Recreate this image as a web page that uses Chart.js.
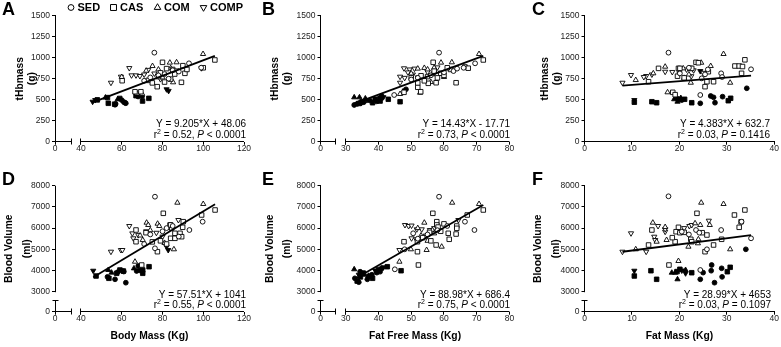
<!DOCTYPE html>
<html><head><meta charset="utf-8">
<script src="https://cdn.jsdelivr.net/npm/chart.js@4/dist/chart.umd.min.js"></script>
<style>
html,body{margin:0;padding:0;background:#fff;}
#wrap{position:relative;width:781px;height:347px;overflow:hidden;background:#fff;}
canvas{position:absolute;}
</style></head><body>
<div id="wrap">
<canvas id="cA" width="260" height="170" style="left:0;top:0"></canvas>
<canvas id="cB" width="260" height="170" style="left:260px;top:0"></canvas>
<canvas id="cC" width="261" height="170" style="left:520px;top:0"></canvas>
<canvas id="cD" width="260" height="177" style="left:0;top:170px"></canvas>
<canvas id="cE" width="260" height="177" style="left:260px;top:170px"></canvas>
<canvas id="cF" width="261" height="177" style="left:520px;top:170px"></canvas>
</div>
<script>
// ---------- DATA ----------
// group codes: S=SED, C=CAS, M=COM, P=COMP (open); lower case = filled symbols
const panelA = [ // body mass (kg), tHbmass (g)
[76,1060,'S'],[93,933,'S'],[99,881,'S'],[85,850,'S'],[81,805,'S'],[74,765,'S'],[71,725,'S'],[88,835,'S'],[78,790,'S'],[83,750,'S'],
[80,945,'C'],[90,905,'C'],[105.7,973,'C'],[91,814,'C'],[89.3,707,'C'],[77.4,655,'C'],[66.5,595,'C'],[69.4,595,'C'],[60.2,726,'C'],[82,870,'C'],[85,860,'C'],[87,840,'C'],[78,775,'C'],[84,745,'C'],[73,730,'C'],[100,880,'C'],[86,805,'C'],[81,710,'C'],[75,700,'C'],[92,860,'C'],[79,820,'C'],
[99.9,1044,'M'],[83.6,941,'M'],[86.9,945,'M'],[75.1,901,'M'],[85.2,707,'M'],[72,845,'M'],[78,860,'M'],[67.5,575,'M'],[70,570,'M'],[80,765,'M'],[84,875,'M'],[60,770,'M'],
[63.7,877,'P'],[59.6,774,'P'],[64.8,790,'P'],[67,790,'P'],[68.9,782,'P'],[54.7,702,'P'],[73,855,'P'],[76,812,'P'],[86,838,'P'],[99.1,875,'P'],[71,800,'P'],[79,745,'P'],
[45.7,476,'p'],[47,496,'p'],[82,624,'p'],[83,605,'p'],
[53.4,457,'c'],[56.5,447,'c'],[70.2,484,'c'],[73.3,516,'c'],[67,548,'c'],[48,498,'c'],[59,515,'c'],[53,525,'c'],
[56.7,440,'s'],[61,472,'s'],[62,458,'s'],[68,538,'s'],[60,495,'s'],[70,540,'s'],[57,450,'s'],[61.5,465,'s'],
[52,525,'m'],[69,560,'m'],[58,505,'m']
];
const panelB = [ // fat free mass (kg), tHbmass (g)
[58.5,1060,'S'],[69.5,933,'S'],[66,880,'S'],[62.9,841,'S'],[44.8,556,'S'],[56,790,'S'],[52,760,'S'],[60,825,'S'],[50,740,'S'],[64,870,'S'],
[56.7,945,'C'],[72,973,'C'],[66.4,890,'C'],[67.4,875,'C'],[63.7,702,'C'],[57.6,702,'C'],[55.2,695,'C'],[52,648,'C'],[52.9,595,'C'],[47.8,588,'C'],[55,775,'C'],[58,760,'C'],[62,860,'C'],[59,815,'C'],[53,785,'C'],[50,760,'C'],[57,840,'C'],[60,790,'C'],[54,725,'C'],[61,880,'C'],[52,700,'C'],
[70.7,1044,'M'],[59.1,941,'M'],[62.4,945,'M'],[60,770,'M'],[56,710,'M'],[52,870,'M'],[54,878,'M'],[57,880,'M'],[52.7,583,'M'],[46.6,568,'M'],[50,812,'M'],[55,860,'M'],
[47.8,874,'P'],[46.6,774,'P'],[46.6,702,'P'],[51,870,'P'],[49.5,860,'P'],[49,825,'P'],[50.5,800,'P'],[55,830,'P'],[57,815,'P'],[58,885,'P'],[48,760,'P'],[52,765,'P'],
[32.6,528,'m'],[34.2,528,'m'],[36,515,'m'],
[32.6,437,'s'],[34.4,465,'s'],[35.5,470,'s'],[37.4,490,'s'],[41,544,'s'],[48.4,624,'s'],[39.5,480,'s'],[33.5,450,'s'],
[38.2,464,'c'],[39,505,'c'],[40.5,516,'c'],[43,505,'c'],[46.6,476,'c'],[35,475,'c'],[40.5,484,'c'],[34,455,'c'],
[34.8,460,'p'],[36.5,496,'p'],[41.5,530,'p'],[48,610,'p']
];
const panelC = [ // fat mass (kg), tHbmass (g)
[17.7,1060,'S'],[35.1,862,'S'],[28.8,814,'S'],[25.4,802,'S'],[24.4,556,'S'],[20.1,813,'S'],[24.7,754,'S'],[22,880,'S'],[26,860,'S'],[29,770,'S'],
[33.8,975,'C'],[31.7,901,'C'],[32.6,901,'C'],[33.3,895,'C'],[33.1,814,'C'],[13.5,714,'C'],[15.6,873,'C'],[19.8,873,'C'],[20.1,873,'C'],[19.6,780,'C'],[22.3,873,'C'],[22.6,873,'C'],[23.5,945,'C'],[24,940,'C'],[26.1,833,'C'],[25.8,714,'C'],[27.2,714,'C'],[25.4,655,'C'],[18.6,588,'C'],[19.1,560,'C'],[21,760,'C'],
[29.3,1044,'M'],[30.7,702,'M'],[10.8,734,'M'],[14.5,814,'M'],[17,893,'M'],[24.6,940,'M'],[26.6,901,'M'],[22.4,702,'M'],[17.5,588,'M'],[20.8,873,'M'],[22,800,'M'],[21,760,'M'],
[8,702,'P'],[9.8,794,'P'],[13,782,'P'],[14.2,800,'P'],[17,833,'P'],[12.5,770,'P'],[21.5,860,'P'],[23,850,'P'],[25,820,'P'],[20,815,'P'],[18.5,830,'P'],[22.5,780,'P'],
[10.5,496,'p'],[24.4,841,'p'],
[10.5,470,'c'],[14.2,476,'c'],[15.2,464,'c'],[20.1,505,'c'],[21.1,505,'c'],[22.6,464,'c'],[30.3,488,'c'],[30.8,517,'c'],
[24.4,457,'s'],[26.6,544,'s'],[27.2,528,'s'],[27.5,464,'s'],[29.1,536,'s'],[34.2,636,'s'],[19.6,510,'s'],[20.5,495,'s'],
[19.6,476,'m'],[18.9,505,'m'],[20.3,520,'m']
];
const panelD = [ // body mass (kg), blood volume (ml)
[76.3,7481,'S'],[99.7,6302,'S'],[93.2,5910,'S'],[76.3,5047,'S'],[82,6000,'S'],[74,5700,'S'],[80,5850,'S'],[88,5600,'S'],[71,5250,'S'],[85,6100,'S'],
[105.8,6854,'C'],[80.4,6698,'C'],[99.2,6618,'C'],[84.5,6005,'C'],[83.7,6146,'C'],[90.2,6302,'C'],[89.9,6038,'C'],[67,5910,'C'],[67,5358,'C'],[71.9,5783,'C'],[86.1,5755,'C'],[88.6,5755,'C'],[84,5519,'C'],[86.1,5519,'C'],[89.4,5594,'C'],[77.5,4887,'C'],[69.8,4259,'C'],[79,5400,'C'],[82,5250,'C'],[75,5350,'C'],[84,6150,'C'],
[87.3,7198,'M'],[100,7137,'M'],[72.2,6255,'M'],[73,6146,'M'],[77.6,6207,'M'],[78.4,6099,'M'],[85.6,5000,'M'],[70.3,5439,'M'],[66.5,4415,'M'],[81,5300,'M'],[74,5900,'M'],[69,5650,'M'],
[87.8,6382,'P'],[63.7,6099,'P'],[65.2,5752,'P'],[68.1,5670,'P'],[65.7,5519,'P'],[54.7,4887,'P'],[59.6,4967,'P'],[60.3,4967,'P'],[72,5850,'P'],[77,5780,'P'],[80,5600,'P'],[84,6000,'P'],
[46,3990,'p'],[82,5123,'p'],[82.8,4967,'p'],[60,4000,'p'],
[47.4,3740,'c'],[53.7,3632,'c'],[57.5,3868,'c'],[59.1,4024,'c'],[60.8,3976,'c'],[70.3,4024,'c'],[70.3,3868,'c'],[73.4,4179,'c'],
[56.7,3585,'s'],[62,3425,'s'],[68.1,4212,'s'],[67.3,3976,'s'],[58,3920,'s'],[61,3950,'s'],[53,3700,'s'],[69,4000,'s'],
[53.4,4024,'m'],[66,4100,'m'],[55,3900,'m']
];
const panelE = [ // fat free mass (kg), blood volume (ml)
[58.5,7481,'S'],[66.4,6302,'S'],[69.3,5910,'S'],[50.6,5755,'S'],[45,4057,'S'],[55,5700,'S'],[58,5900,'S'],[52,5500,'S'],[61,6100,'S'],[48,5000,'S'],
[72,6854,'C'],[67.1,6618,'C'],[56.6,6698,'C'],[57.8,6302,'C'],[57.8,6150,'C'],[58.2,6050,'C'],[63.9,6099,'C'],[63.9,5990,'C'],[61.3,5755,'C'],[63.7,5720,'C'],[61.6,5472,'C'],[55.6,5800,'C'],[47.8,5358,'C'],[51.9,5358,'C'],[57.6,5203,'C'],[51.9,4887,'C'],[52.2,4259,'C'],[53.5,5550,'C'],[56,5400,'C'],[59,5850,'C'],[60,6200,'C'],
[62.5,7198,'M'],[70.7,7137,'M'],[54,6255,'M'],[59.3,5123,'M'],[54.7,4967,'M'],[49.9,5000,'M'],[46.4,4415,'M'],[56.5,5900,'M'],[53,5650,'M'],[52,6000,'M'],[57,5750,'M'],[55,5400,'M'],
[64.4,6382,'P'],[48.1,6146,'P'],[49.2,6099,'P'],[50.1,6120,'P'],[51.7,5943,'P'],[53.2,5943,'P'],[55.7,5910,'P'],[50.1,5519,'P'],[51.5,5472,'P'],[46.4,4967,'P'],[57,6000,'P'],[54.5,5650,'P'],
[32.6,4057,'m'],[35.5,3800,'m'],[37,3750,'m'],
[32.8,3632,'s'],[34.4,3943,'s'],[36.6,3585,'s'],[40.5,3943,'s'],[41,4104,'s'],[34,3450,'s'],[38,3800,'s'],[39.5,3900,'s'],
[35.4,3868,'c'],[38.2,3632,'c'],[42.7,4179,'c'],[46.9,3990,'c'],[34.5,3700,'c'],[40,4050,'c'],[37,3720,'c'],[33.5,3500,'c'],
[35.2,3911,'p'],[39,4000,'p'],[41.5,4150,'p'],[34,3800,'p']
];
const panelF = [ // fat mass (kg), blood volume (ml)
[17.7,7500,'S'],[33.1,6302,'S'],[23.5,5910,'S'],[24.2,5783,'S'],[28.8,5910,'S'],[35.1,5519,'S'],[25.8,5000,'S'],[24.4,4024,'S'],[20.5,5830,'S'],[22,5700,'S'],
[33.8,6854,'C'],[31.6,6618,'C'],[23.7,6698,'C'],[32.6,6038,'C'],[14.2,5910,'C'],[19.8,6038,'C'],[19.3,5830,'C'],[20.1,5783,'C'],[24.8,5783,'C'],[25.8,5674,'C'],[28.9,5472,'C'],[22.4,5472,'C'],[22.6,5358,'C'],[19.1,5358,'C'],[13.5,5203,'C'],[27.2,5203,'C'],[25.4,4887,'C'],[17.8,4259,'C'],[21,5800,'C'],[18.5,5550,'C'],[33,6300,'C'],
[24.6,7198,'M'],[29.3,7137,'M'],[14.4,6255,'M'],[17,6050,'M'],[17.3,5439,'M'],[23.3,6226,'M'],[24.4,6146,'M'],[26.4,6146,'M'],[24,5472,'M'],[23.9,5283,'M'],[21.9,5123,'M'],[15.2,5358,'M'],[30.7,5000,'M'],[10.8,5000,'M'],[19.8,4448,'M'],
[9.8,5755,'P'],[15.5,6099,'P'],[14.7,5594,'P'],[14.9,5439,'P'],[17,5830,'P'],[22.1,6099,'P'],[22.6,6146,'P'],[26.2,6350,'P'],[8,4887,'P'],[13,4887,'P'],[17,5950,'P'],[21,6000,'P'],
[10.5,3990,'p'],[21.3,3868,'p'],[20.5,4000,'p'],
[10.5,3740,'c'],[14,3990,'c'],[15.2,3585,'c'],[20.1,4057,'c'],[22.6,3896,'c'],[30.1,3943,'c'],[30.7,4151,'c'],[19.5,3950,'c'],
[24.4,3585,'s'],[26.8,4259,'s'],[26.7,3990,'s'],[27.4,3425,'s'],[28.9,4104,'s'],[34,5000,'s'],[25,3900,'s'],[29,3700,'s'],
[18.4,3896,'m'],[19.1,3896,'m'],[21.3,4024,'m'],[19.6,3585,'m']
];
const slopes = [9.205, 14.43, 4.383, 57.51, 88.98, 28.99];
const intercepts = [48.06, -17.71, 632.7, 1041, 686.4, 4653];
const equations = ['Y = 9.205*X + 48.06','Y = 14.43*X - 17.71','Y = 4.383*X + 632.7','Y = 57.51*X + 1041','Y = 88.98*X + 686.4','Y = 28.99*X + 4653'];
const r2Values = ['0.52','0.73','0.03','0.55','0.75','0.03'];
const pValues = ['< 0.0001','< 0.0001','= 0.1416','< 0.0001','< 0.0001','= 0.1097'];
const panelLetters = ['A','B','C','D','E','F'];
const groupNames = ['SED','CAS','COM','COMP'];
const tHbTicks = [0,250,500,750,1000,1250,1500];
const bvTicks = [3000,4000,5000,6000,7000,8000];
const bmTicks = [40,60,80,100,120];
const ffmTicks = [30,40,50,60,70,80];
const fmTicks = [0,10,20,30,40];
const yTitles = [['tHbmass','(g)'],['Blood Volume','(ml)']];
const xTitles = ['Body Mass (Kg)','Fat Free Mass (Kg)','Fat Mass (Kg)'];

// ---------- RENDERING ----------
const FONT = '"Liberation Sans", Arial, Helvetica, sans-serif';
Chart.defaults.font.family = FONT;

function styleFor(g) {
  const G = g.toUpperCase();
  const filled = g !== G;
  return {
    pointStyle: G === 'S' ? 'circle' : (G === 'C' ? 'rect' : 'triangle'),
    pointRotation: G === 'P' ? 180 : 0,
    pointRadius: G === 'S' ? 2.4 : (G === 'C' ? 3.2 : 3.0),
    pointBackgroundColor: filled ? '#000' : '#fff',
    pointBorderColor: '#000',
    pointBorderWidth: 0.9
  };
}

function drawSymbol(ctx, style, x, y, r, rot) {
  if (Chart.helpers && Chart.helpers.drawPoint) {
    ctx.fillStyle = '#fff'; ctx.strokeStyle = '#000'; ctx.lineWidth = 1;
    Chart.helpers.drawPoint(ctx, {pointStyle: style, radius: r, rotation: rot, borderWidth: 1}, x, y);
  }
}

const decoPlugin = {
  id: 'deco',
  afterDraw(chart, args, o) {
    const ctx = chart.ctx, a = chart.chartArea, xs = chart.scales.x, ys = chart.scales.y;
    const al = v => Math.round(v - 0.5) + 0.5;
    ctx.save();
    ctx.strokeStyle = '#000'; ctx.lineWidth = 1;
    const ax = al(a.left), by = al(a.bottom);
    if (o.xBreak) {
      const p1 = al(xs.getPixelForValue(o.xBreak[0])), p2 = al(xs.getPixelForValue(o.xBreak[1]));
      ctx.beginPath();
      ctx.moveTo(a.left, by); ctx.lineTo(p1, by);
      ctx.moveTo(p1, by - 3); ctx.lineTo(p1, by + 3);
      ctx.moveTo(p2, by); ctx.lineTo(a.right, by);
      ctx.moveTo(p2, by - 3); ctx.lineTo(p2, by + 3);
      ctx.stroke();
    }
    if (o.yBreak) {
      const q1 = al(ys.getPixelForValue(o.yBreak[0])), q2 = ys.getPixelForValue(o.yBreak[1]);
      ctx.beginPath();
      ctx.moveTo(ax, a.bottom + 0.5); ctx.lineTo(ax, q1);
      ctx.moveTo(ax - 3, q1); ctx.lineTo(ax + 3, q1);
      ctx.moveTo(ax, q2 + 0.5); ctx.lineTo(ax, a.top);
      ctx.stroke();
    }
    // panel letter
    ctx.fillStyle = '#000';
    ctx.font = 'bold 18px ' + FONT;
    ctx.textAlign = 'left'; ctx.textBaseline = 'alphabetic';
    ctx.fillText(o.letter, o.letterX, 15);
    // equation
    ctx.font = '10px ' + FONT;
    ctx.textBaseline = 'middle';
    ctx.textAlign = 'right';
    ctx.fillText(o.eq, o.eqX, o.eqY1);
    const segs = [['r', '10px '], ['2', '7px '], [' = ' + o.r2 + ', ', '10px '], ['P', 'italic 10px '], [' ' + o.p, '10px ']];
    let total = 0;
    segs.forEach(s => { ctx.font = s[1] + FONT; total += ctx.measureText(s[0]).width; });
    let x = o.eqX - total;
    ctx.textAlign = 'left';
    segs.forEach(s => {
      ctx.font = s[1] + FONT;
      const dy = s[0] === '2' ? -3.5 : 0;
      ctx.fillText(s[0], x, o.eqY2 + dy);
      x += ctx.measureText(s[0]).width;
    });
    // legend
    if (o.legend) {
      const items = [['circle', 0, 2.9, 71, 77.5], ['rect', 0, 4.2, 113.5, 120], ['triangle', 0, 3.8, 157.5, 164], ['triangle', 180, 3.8, 203.5, 210]];
      items.forEach((it, i) => {
        drawSymbol(ctx, it[0], it[3], 7.5, it[2], it[1]);
        ctx.fillStyle = '#000';
        ctx.font = 'bold 11px ' + FONT;
        ctx.textAlign = 'left'; ctx.textBaseline = 'middle';
        ctx.fillText(groupNames[i], it[4], 8);
      });
    }
    ctx.restore();
  }
};

const panels = [
  {id:'cA', data:panelA, left:0, top:0, w:260, h:170, pL:55, pR:244, pT:15.7, pB:141.7, xMin:27.24, xMax:120, xTicks:bmTicks, xBreak:[35.58,40], yMin:0, yMax:1500, yTicks:tHbTicks, yBreak:null, yTitle:yTitles[0], yTitlePad:13.8, yLH:1.2, xTitle:null, letterX:2, eqX:246, eqY1:124, eqY2:135.5, legend:true},
  {id:'cB', data:panelB, left:260, top:0, w:260, h:170, pL:320.5, pR:509.5, pT:15.7, pB:141.7, xMin:22.31, xMax:80, xTicks:ffmTicks, xBreak:[27.04,30], yMin:0, yMax:1500, yTicks:tHbTicks, yBreak:null, yTitle:yTitles[0], yTitlePad:8.8, yLH:1.2, xTitle:null, letterX:2, eqX:250, eqY1:124, eqY2:135.5},
  {id:'cC', data:panelC, left:520, top:0, w:261, h:170, pL:584.5, pR:774.3, pT:15.7, pB:141.7, xMin:0, xMax:40, xTicks:fmTicks, xBreak:null, yMin:0, yMax:1500, yTicks:tHbTicks, yBreak:null, yTitle:yTitles[0], yTitlePad:18.8, yLH:1.2, xTitle:null, letterX:12, eqX:250, eqY1:124, eqY2:135.5},
  {id:'cD', data:panelD, left:0, top:170, w:260, h:177, pL:55, pR:244, pT:185.7, pB:311.7, xMin:27.24, xMax:120, xTicks:bmTicks, xBreak:[35.58,40], yMin:2057, yMax:8000, yTicks:bvTicks, yBreak:[2562,3000], yTitle:yTitles[1], yTitlePad:0.5, yLH:1.7, xTitle:xTitles[0], letterX:2, eqX:246, eqY1:125, eqY2:135.5},
  {id:'cE', data:panelE, left:260, top:170, w:260, h:177, pL:320.5, pR:509.5, pT:185.7, pB:311.7, xMin:22.31, xMax:80, xTicks:ffmTicks, xBreak:[27.04,30], yMin:2057, yMax:8000, yTicks:bvTicks, yBreak:[2562,3000], yTitle:yTitles[1], yTitlePad:1.2, yLH:1.7, xTitle:xTitles[1], letterX:2, eqX:250, eqY1:125, eqY2:135.5},
  {id:'cF', data:panelF, left:520, top:170, w:261, h:177, pL:584.5, pR:774.3, pT:185.7, pB:311.7, xMin:0, xMax:40, xTicks:fmTicks, xBreak:null, yMin:2057, yMax:8000, yTicks:bvTicks, yBreak:[2562,3000], yTitle:yTitles[1], yTitlePad:9.5, yLH:1.7, xTitle:xTitles[2], letterX:12, eqX:251, eqY1:125, eqY2:135.5}
];

panels.forEach((P, k) => {
  const groups = ['S','C','M','P','s','c','m','p'];
  const datasets = [];
  const xsAll = P.data.map(d => d[0]);
  const x0 = Math.min(...xsAll), x1 = Math.max(...xsAll);
  datasets.push({
    label: 'fit', data: [{x: x0, y: slopes[k] * x0 + intercepts[k]}, {x: x1, y: slopes[k] * x1 + intercepts[k]}],
    showLine: true, pointRadius: 0, borderColor: '#000', borderWidth: 1.8, order: 0
  });
  groups.forEach(g => {
    const pts = P.data.filter(d => d[2] === g).map(d => ({x: d[0], y: d[1]}));
    datasets.push(Object.assign({label: g, data: pts, showLine: false, order: 1}, styleFor(g)));
  });
  const xBroken = !!P.xBreak, yBroken = !!P.yBreak;
  const tickFont = {size: 8.5, family: FONT};
  new Chart(document.getElementById(P.id), {
    type: 'scatter',
    data: {datasets},
    options: {
      responsive: false, animation: false, devicePixelRatio: 1, events: [],
      layout: {padding: {left: 0, top: P.pT - P.top, right: P.left + P.w - P.pR, bottom: 0}},
      plugins: {
        legend: {display: false}, tooltip: {enabled: false},
        deco: {xBreak: P.xBreak, yBreak: P.yBreak, letter: panelLetters[k], letterX: P.letterX,
               eq: equations[k], r2: r2Values[k], p: pValues[k], eqX: P.eqX, eqY1: P.eqY1, eqY2: P.eqY2, legend: !!P.legend}
      },
      scales: {
        x: {
          type: 'linear', min: P.xMin, max: P.xMax,
          afterBuildTicks: s => { s.ticks = (xBroken ? [P.xMin] : []).concat(P.xTicks).map(v => ({value: v})); },
          afterFit: s => { s.height = P.top + P.h - P.pB; },
          ticks: {font: tickFont, color: '#222', padding: -1.5, maxRotation: 0, autoSkip: false,
                  callback: v => (xBroken && Math.abs(v - P.xMin) < 1e-6) ? '0' : String(v)},
          grid: {drawOnChartArea: false, drawTicks: true, tickLength: 3, color: '#000', lineWidth: 1},
          border: {display: !xBroken, color: '#000', width: 1},
          title: {display: !!P.xTitle, text: P.xTitle || '', color: '#000',
                  font: {size: 10.3, weight: 'bold', family: FONT, lineHeight: 1.2}, padding: {top: 0, bottom: 5}}
        },
        y: {
          type: 'linear', min: P.yMin, max: P.yMax,
          afterBuildTicks: s => { s.ticks = (yBroken ? [P.yMin] : []).concat(P.yTicks).map(v => ({value: v})); },
          afterFit: s => { s.width = P.pL - P.left; },
          ticks: {font: tickFont, color: '#222', padding: 2, autoSkip: false,
                  callback: v => (yBroken && Math.abs(v - P.yMin) < 1e-6) ? '0' : String(v)},
          grid: {drawOnChartArea: false, drawTicks: true, tickLength: 3, color: '#000', lineWidth: 1},
          border: {display: !yBroken, color: '#000', width: 1},
          title: {display: true, text: P.yTitle, color: '#000',
                  font: {size: 10.3, weight: 'bold', family: FONT, lineHeight: P.yLH}, padding: {top: P.yTitlePad, bottom: 0}}
        }
      }
    },
    plugins: [decoPlugin]
  });
});
</script>
</body></html>
